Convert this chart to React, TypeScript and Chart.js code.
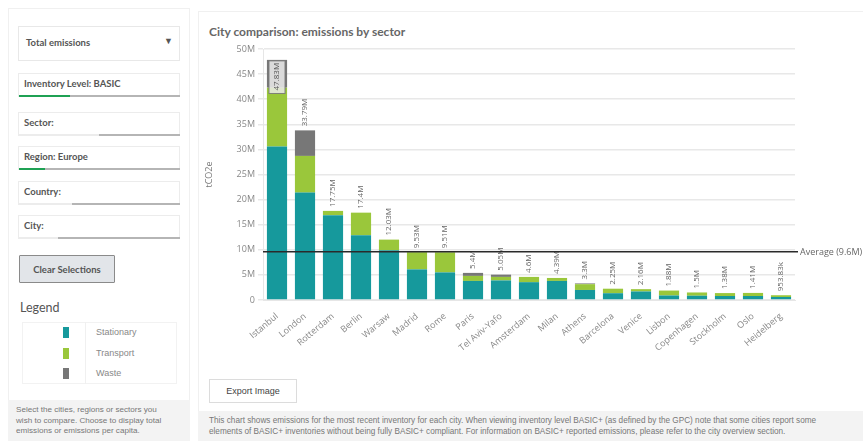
import React, { useEffect, useRef } from "react";
import { Chart, registerables } from "chart.js";

Chart.register(...registerables);

const categories = ["Istanbul", "London", "Rotterdam", "Berlin", "Warsaw", "Madrid", "Rome", "Paris", "Tel Aviv-Yafo", "Amsterdam", "Milan", "Athens", "Barcelona", "Venice", "Lisbon", "Copenhagen", "Stockholm", "Oslo", "Heidelberg"];
// values in millions of tCO2e
const stationary = [30.6, 21.4, 16.9, 12.9, 9.9, 6.1, 5.5, 3.8, 3.9, 3.55, 3.8, 2.0, 1.35, 1.7, 0.9, 0.85, 0.8, 0.8, 0.6];
const transport = [11.7, 7.3, 0.85, 4.5, 2.13, 3.43, 4.01, 1.0, 0.7, 1.05, 0.59, 1.15, 0.9, 0.46, 0.98, 0.65, 0.58, 0.61, 0.35];
const waste = [5.53, 5.09, 0, 0, 0, 0, 0, 0.6, 0.45, 0, 0, 0.15, 0, 0, 0, 0, 0, 0, 0.00383];
const average = 9.6;
const yTicks = [0, 5, 10, 15, 20, 25, 30, 35, 40, 45, 50];

const COL_STAT = "#16999c";
const COL_TRANS = "#9ac73b";
const COL_WASTE = "#777777";

function fmtTotal(v: number) {
  if (v >= 1) return parseFloat(v.toFixed(2)) + "M";
  return parseFloat((v * 1000).toFixed(2)) + "k";
}

const totalsPlugin = {
  id: "totals",
  afterDatasetsDraw(chart: any) {
    const { ctx, chartArea, scales } = chart;
    const x = scales.x;
    const y = scales.y;
    ctx.save();
    ctx.font = "8px 'Open Sans', sans-serif";
    categories.forEach((_, i) => {
      const total = stationary[i] + transport[i] + waste[i];
      const label = fmtTotal(total);
      const cx = x.getPixelForValue(i);
      const top = y.getPixelForValue(total);
      const w = ctx.measureText(label).width;
      ctx.save();
      ctx.translate(cx, top);
      ctx.rotate(-Math.PI / 2);
      ctx.textBaseline = "middle";
      if (top - 4 - w < chartArea.top - 10) {
        // inside the bar
        ctx.fillStyle = "rgba(235,235,235,0.85)";
        ctx.fillRect(-w - 6, -8, w + 5, 16);
        ctx.strokeStyle = "rgba(120,120,120,0.9)";
        ctx.lineWidth = 1;
        ctx.strokeRect(-w - 6, -8, w + 5, 16);
        ctx.fillStyle = "#555";
        ctx.textAlign = "right";
        ctx.fillText(label, -3, 0);
      } else {
        ctx.fillStyle = "#666";
        ctx.textAlign = "left";
        ctx.fillText(label, 4, 0);
      }
      ctx.restore();
    });
    // average line
    const ay = y.getPixelForValue(average);
    ctx.strokeStyle = "#2a2a2a";
    ctx.lineWidth = 1.5;
    ctx.beginPath();
    ctx.moveTo(chartArea.left, ay);
    ctx.lineTo(chartArea.right + 3, ay);
    ctx.stroke();
    ctx.font = "9px 'Open Sans', sans-serif";
    ctx.fillStyle = "#666";
    ctx.textAlign = "left";
    ctx.textBaseline = "middle";
    ctx.fillText("Average (" + average + "M)", chartArea.right + 5, ay + 1);
    ctx.restore();
  },
};

function ChartBox() {
  const ref = useRef<HTMLCanvasElement | null>(null);
  useEffect(() => {
    if (!ref.current) return;
    const chart = new Chart(ref.current, {
      type: "bar",
      data: {
        labels: categories,
        datasets: [
          { label: "Stationary", data: stationary, backgroundColor: COL_STAT },
          { label: "Transport", data: transport, backgroundColor: COL_TRANS },
          { label: "Waste", data: waste, backgroundColor: COL_WASTE },
        ],
      },
      options: {
        animation: false,
        responsive: false,
        maintainAspectRatio: false,
        layout: { padding: { top: 9, right: 68, left: 0, bottom: 0 } },
        plugins: { legend: { display: false }, tooltip: { enabled: false } },
        datasets: { bar: { categoryPercentage: 0.72, barPercentage: 1 } },
        scales: {
          x: {
            stacked: true,
            grid: { display: false },
            border: { display: true, color: "#e6e6e6" },
            ticks: {
              minRotation: 40,
              maxRotation: 40,
              color: "#888",
              font: { size: 9, family: "'Open Sans', sans-serif" },
              autoSkip: false,
            },
            afterFit: (s: any) => {
              s.height = 60;
            },
          },
          y: {
            stacked: true,
            min: 0,
            max: 50,
            afterBuildTicks: (s: any) => {
              s.ticks = yTicks.map((v) => ({ value: v }));
            },
            ticks: {
              color: "#888",
              font: { size: 9, family: "'Open Sans', sans-serif" },
              padding: 3,
              callback: (v: any) => (v === 0 ? "0" : v + "M"),
            },
            grid: { color: "#e8e8e8", lineWidth: 1.5, tickLength: 5 },
            border: { display: true, color: "#e6e6e6" },
            title: {
              display: true,
              text: "tCO2e",
              color: "#777",
              font: { size: 9, family: "'Open Sans', sans-serif" },
            },
            afterFit: (s: any) => {
              s.width = 63;
            },
          },
        },
      },
      plugins: [totalsPlugin],
    } as any);
    return () => chart.destroy();
  }, []);
  return (
    <canvas
      ref={ref}
      width={663}
      height={320}
      style={{ position: "absolute", left: 200, top: 40, width: 663, height: 320 }}
    />
  );
}

const uiFont = "Lato, 'Open Sans', sans-serif";
const plainFont = "'Liberation Sans', Arial, sans-serif";

function Field({ top, label, green, grayFrom }: { top: number; label: string; green?: number; grayFrom: number }) {
  return (
    <div style={{ position: "absolute", left: 18, top, width: 162, height: 24 }}>
      <div
        style={{
          position: "absolute", left: 0, top: 0, width: 160, height: 22,
          border: "1px solid #ececec", background: "#fff",
        }}
      />
      <div
        style={{
          position: "absolute", left: 6, top: 5, fontFamily: uiFont, fontWeight: 700,
          fontSize: 9.5, color: "#555",
        }}
      >
        {label}
      </div>
      <div style={{ position: "absolute", left: 0, top: 22, width: 162, height: 2, background: "#ececec" }} />
      <div style={{ position: "absolute", left: grayFrom - 18, top: 22, width: 180 - grayFrom, height: 2, background: "#b5b5b5" }} />
      {green ? (
        <div style={{ position: "absolute", left: 1, top: 22, width: green - 19, height: 2, background: "#1fa154" }} />
      ) : null}
    </div>
  );
}

export default function App() {
  return (
    <div style={{ position: "fixed", left: 0, top: 0, width: 863, height: 441, background: "#fff", overflow: "hidden" }}>
      {/* left panel */}
      <div style={{ position: "absolute", left: 8, top: 8, width: 180, height: 392, border: "1px solid #f0f0f0", background: "#fff" }} />
      <div
        style={{
          position: "absolute", left: 18, top: 26, width: 160, height: 33, border: "1px solid #e8e8e8",
          background: "#fff",
        }}
      >
        <div style={{ position: "absolute", left: 7, top: 10, fontFamily: uiFont, fontWeight: 700, fontSize: 9.5, color: "#555" }}>
          Total emissions
        </div>
        <div style={{ position: "absolute", left: 145, top: 9, fontSize: 9, color: "#555", fontFamily: plainFont }}>▼</div>
      </div>
      <Field top={73} label="Inventory Level: BASIC" green={70} grayFrom={70} />
      <Field top={112} label="Sector:" grayFrom={99} />
      <Field top={146} label="Region: Europe" green={45} grayFrom={45} />
      <Field top={181} label="Country:" grayFrom={72} />
      <Field top={215} label="City:" grayFrom={58} />
      <div
        style={{
          position: "absolute", left: 19, top: 255, width: 94, height: 26, background: "#e2e5e9",
          border: "1px solid #8a8a8a", borderRadius: 1, fontFamily: uiFont, fontWeight: 700, fontSize: 9.5,
          color: "#555", display: "flex", alignItems: "center", justifyContent: "center",
        }}
      >
        Clear Selections
      </div>
      <div style={{ position: "absolute", left: 20, top: 300, fontFamily: uiFont, fontSize: 12.5, color: "#555" }}>Legend</div>
      <div style={{ position: "absolute", left: 22, top: 322, width: 153, height: 60, border: "1px solid #f2f2f2" }} />
      <div style={{ position: "absolute", left: 85, top: 322, width: 1, height: 62, background: "#f0f0f0" }} />
      {[
        { t: 327, c: COL_STAT, l: "Stationary" },
        { t: 348, c: COL_TRANS, l: "Transport" },
        { t: 368, c: COL_WASTE, l: "Waste" },
      ].map((r) => (
        <React.Fragment key={r.l}>
          <div style={{ position: "absolute", left: 63, top: r.t, width: 6, height: 11, background: r.c }} />
          <div style={{ position: "absolute", left: 96, top: r.t, fontFamily: plainFont, fontSize: 9, color: "#888" }}>{r.l}</div>
        </React.Fragment>
      ))}
      <div
        style={{
          position: "absolute", left: 8, top: 400, width: 182, height: 41, background: "#f3f3f3",
        }}
      >
        <div style={{ position: "absolute", left: 8, top: 5, width: 158, fontFamily: plainFont, fontSize: 8.1, lineHeight: "10.5px", color: "#777" }}>
          Select the cities, regions or sectors you wish to compare. Choose to display total emissions or emissions per capita.
        </div>
      </div>

      {/* main panel */}
      <div style={{ position: "absolute", left: 198, top: 11, width: 670, height: 400, border: "1px solid #f0f0f0" }} />
      <div style={{ position: "absolute", left: 209, top: 24, fontFamily: uiFont, fontWeight: 700, fontSize: 12, color: "#666" }}>
        City comparison: emissions by sector
      </div>
      <ChartBox />
      <div
        style={{
          position: "absolute", left: 209, top: 379, width: 86, height: 22, border: "1px solid #dcdcdc", background: "#fff",
          fontFamily: plainFont, fontSize: 9, color: "#444", display: "flex", alignItems: "center", justifyContent: "center",
        }}
      >
        Export Image
      </div>
      <div style={{ position: "absolute", left: 198, top: 411, width: 665, height: 30, background: "#f3f3f3" }}>
        <div style={{ position: "absolute", left: 11, top: 4, width: 632, fontFamily: plainFont, fontSize: 8.2, lineHeight: "11px", color: "#777" }}>
          This chart shows emissions for the most recent inventory for each city. When viewing inventory level BASIC+ (as defined by the GPC) note that some cities report some elements of BASIC+ inventories without being fully BASIC+ compliant. For information on BASIC+ reported emissions, please refer to the city overview section.
        </div>
      </div>
    </div>
  );
}
